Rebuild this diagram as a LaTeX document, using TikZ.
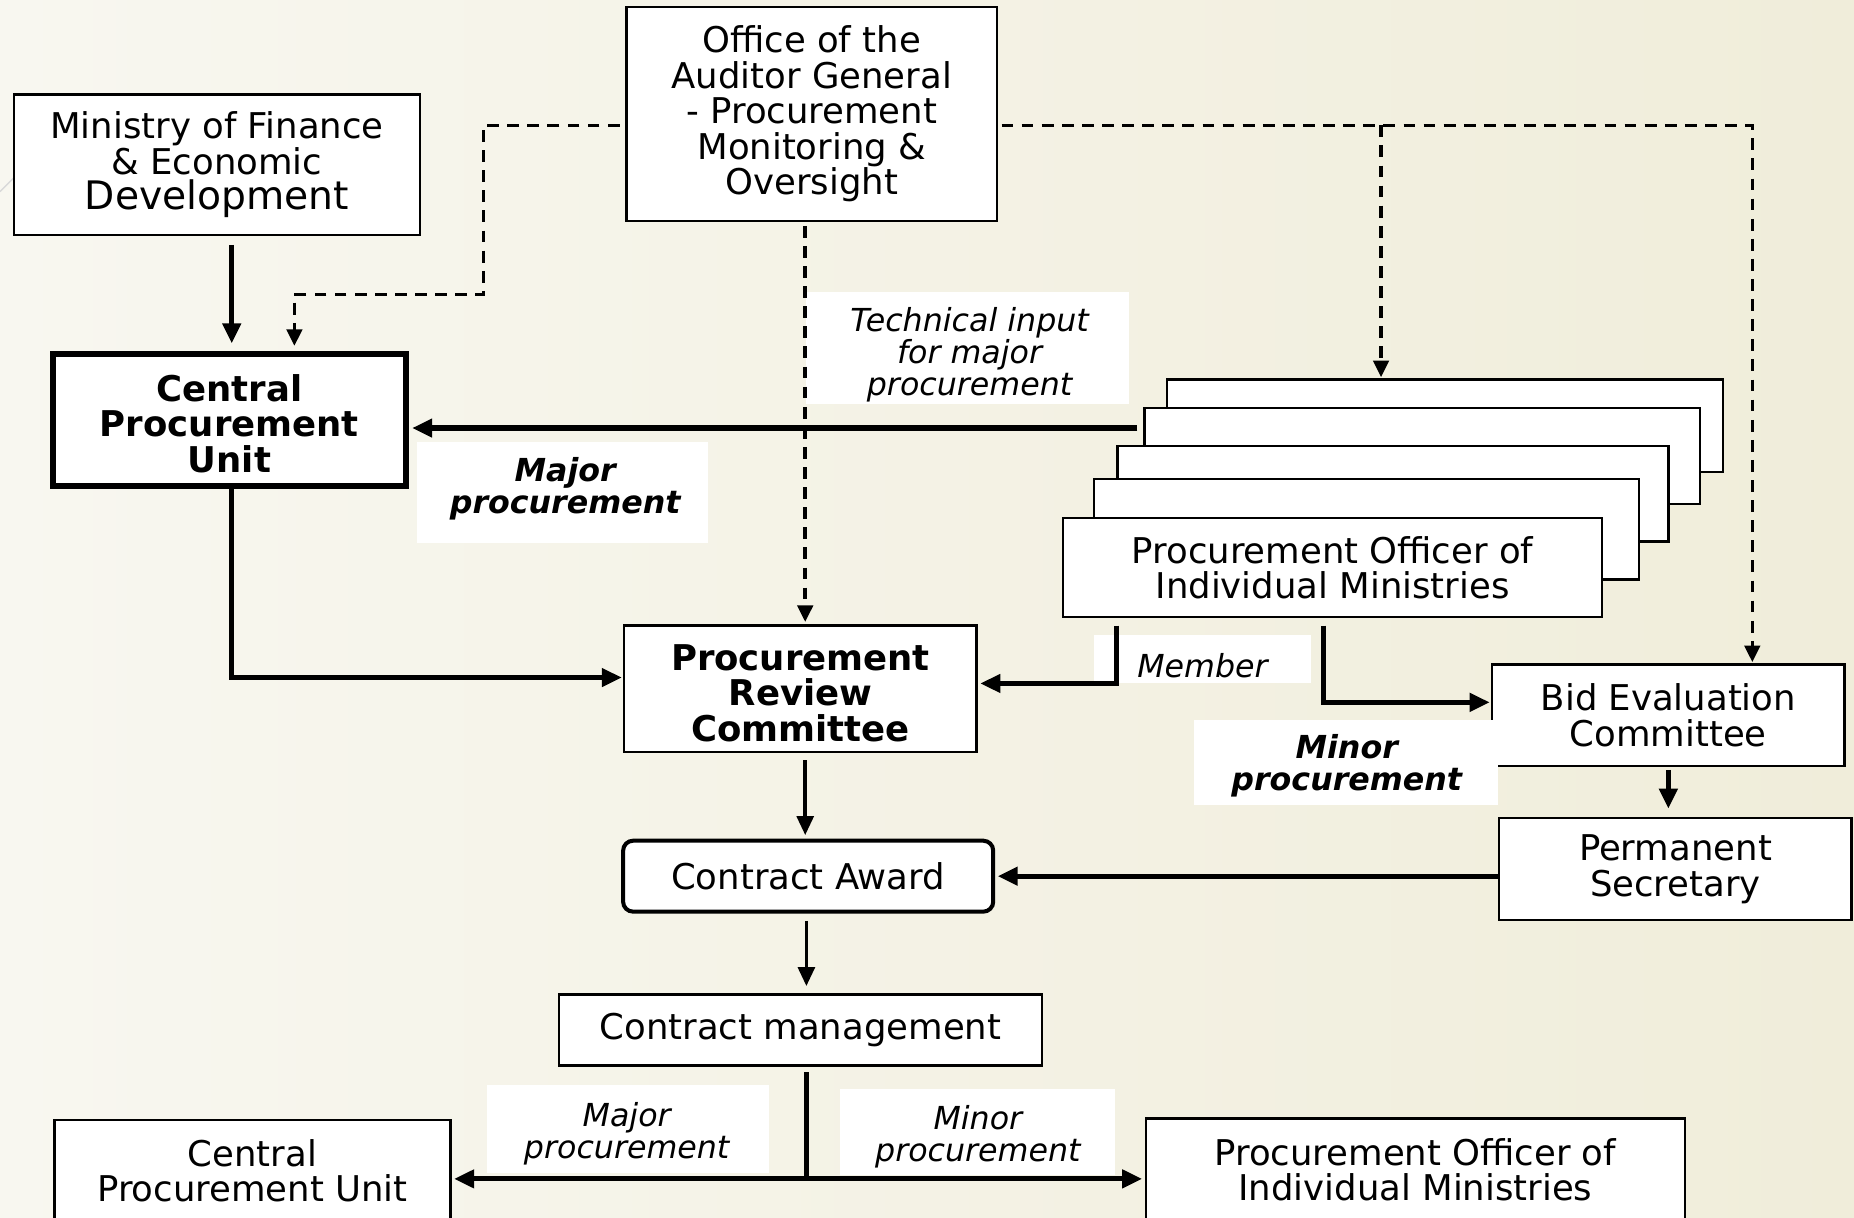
\documentclass[tikz,border=0pt]{standalone}
\usepackage{fontspec}
\setmainfont{DejaVu Sans}
\usetikzlibrary{arrows.meta,calc}
\newcommand\mainsz{\fontsize{15}{15}\selectfont}
\newcommand\labsz{\fontsize{13.4}{13.5}\selectfont}
\definecolor{bgL}{RGB}{248,247,240}
\definecolor{bgR}{RGB}{240,237,218}
\begin{document}
\begin{tikzpicture}[x=0.5pt,y=-0.5pt,
  box/.style={draw=black, line width=1pt, fill=white, align=center, inner sep=0pt, font=\mainsz},
  bold/.style={font=\mainsz\bfseries},
  txt/.style={inner sep=0pt, align=center, font=\mainsz},
  labbox/.style={fill=white, inner sep=0pt},
  lab/.style={inner sep=0pt, align=center, font=\labsz\itshape},
  labb/.style={inner sep=0pt, align=center, font=\labsz\bfseries\itshape},
  arr/.style={line width=2.2pt, -{Triangle[length=8.5pt,width=7.5pt]}},
  arrt/.style={line width=1.6pt, -{Triangle[length=8pt,width=7pt]}},
  dsh/.style={line width=1.5pt, dash pattern=on 5pt off 3.5pt, -{Triangle[length=7pt,width=6.5pt]}},
  ln/.style={line width=2pt}
]
\useasboundingbox (0,0) rectangle (1568,1030);
\shade[left color=bgL, right color=bgR] (0,0) rectangle (1568,1030);
\draw[black!15, line width=0.6pt] (0,162) -- (12,150);

% main boxes
\node[box, minimum width=171.5pt, minimum height=59.5pt] (min) at (183.5,139.5)
  {Ministry of Finance\\ \& Economic\\ {\fontsize{16.6}{15}\selectfont Development}};
\node[box, minimum width=156.5pt, minimum height=90.5pt] (off) at (686.5,96.5)
  {Office of the\\ Auditor General\\ - Procurement\\ Monitoring \&\\ Oversight};
\node[box, line width=2.5pt, minimum width=149pt, minimum height=56pt] (cpu) at (194,355) {};
\node[txt, font=\mainsz\bfseries] (cput) at (194,358) {Central\\ Procurement\\ Unit};
\node[box, minimum width=149pt, minimum height=53.5pt] (prc) at (677,582.5) {};
\node[txt, font=\mainsz\bfseries] (prct) at (677,586) {Procurement\\ Review\\ Committee};
\node[box, rounded corners=4.2pt, line width=1.7pt, minimum width=156.5pt, minimum height=30pt] (ca) at (683.5,741)
  {Contract Award};
\node[box, minimum width=204pt, minimum height=30pt] (cm) at (677,871)
  {Contract management};
\node[box, minimum width=167.5pt, minimum height=43pt] (bcpu) at (213.5,990)
  {Central\\ Procurement Unit};
\node[box, minimum width=228pt, minimum height=43.5pt] (bpo) at (1197,989.5)
  {Procurement Officer of\\ Individual Ministries};

% stacked boxes
\node[box, minimum width=235pt, minimum height=39pt] (s1) at (1222,360) {};
\node[box, minimum width=235pt, minimum height=40.5pt] (s2) at (1203,385.5) {};
\node[box, minimum width=233pt, minimum height=40.5pt] (s3) at (1178,417.5) {};
\node[box, minimum width=230.5pt, minimum height=42.5pt] (s4) at (1155.5,447.5) {};
\node[box, minimum width=228pt, minimum height=42pt] (sf) at (1127,480)
  {Procurement Officer of\\ Individual Ministries};

\node[box, minimum width=149pt, minimum height=43pt] (bec) at (1411,605)
  {Bid Evaluation\\ Committee};
\node[box, minimum width=149pt, minimum height=43pt] (ps) at (1417,735)
  {Permanent\\ Secretary};

% labels
\node[labbox, minimum width=136.5pt, minimum height=47.5pt] (techb) at (818.5,294.5) {};
\node[lab] (tech) at (820,300) {Technical input\\ for major\\ procurement};
\node[labbox, minimum width=123pt, minimum height=42.5pt] (majb) at (476,416.5) {};
\node[labb] (majl) at (478,413) {Major\\ procurement};
\node[labbox, minimum width=92pt, minimum height=20.5pt] (memb) at (1017,557.5) {};
\node[lab] (meml) at (1017,563) {Member};
\node[labbox, minimum width=128.5pt, minimum height=36pt] (minb) at (1138.5,645) {};
\node[labb] (minl) at (1139,648) {Minor\\ procurement};
\node[labbox, minimum width=119pt, minimum height=37pt] (bmajb) at (531,955) {};
\node[lab] (bmaj) at (530,959) {Major\\ procurement};
\node[labbox, minimum width=116.5pt, minimum height=36.5pt] (bminb) at (826.5,957.5) {};
\node[lab] (bmin) at (827,961) {Minor\\ procurement};

% coordinates
\coordinate (d1) at (409,106);
\coordinate (d2) at (409,249);
\coordinate (d3) at (249,249);
\coordinate (d4) at (681,0);
\coordinate (d5) at (1482,106);
\coordinate (d6) at (1168,106);
\coordinate (c1) at (962,362);
\coordinate (c2) at (196,573);
\coordinate (c3) at (944,578);
\coordinate (c4) at (1119,594);
\coordinate (c5) at (682,997);
\coordinate (v1) at (681,0);
\coordinate (v2) at (682,0);
\coordinate (v0) at (196,0);

% dashed connectors
\draw[dsh, shorten <=2.5pt, shorten >=2pt] (off.west |- d1) -- (d1) -- (d2) -- (d3) -- (d3 |- cpu.north);
\draw[dsh, shorten <=1.5pt, shorten >=1pt] (d4 |- off.south) -- (d4 |- prc.north);
\draw[dsh, shorten <=1.5pt, shorten >=0.5pt] (off.east |- d5) -- (d5) -- (d5 |- bec.north);
\draw[dsh, shorten >=0.5pt] (d6) -- (d6 |- s1.north);

% solid connectors
\draw[arr, shorten <=3.5pt, shorten >=3pt] (v0 |- min.south) -- (v0 |- cpu.north);
\draw[arr, shorten >=1.5pt] (c1) -- (c1 -| cpu.east);
\draw[arr, shorten >=0.5pt] (cpu.south -| c2) -- (c2) -- (c2 -| prc.west);
\draw[arr, shorten <=3pt, shorten >=1pt] (c3 |- sf.south) -- (c3) -- (c3 -| prc.east);
\draw[arr, shorten <=3pt, shorten >=0.5pt] (c4 |- sf.south) -- (c4) -- (c4 -| bec.west);
\draw[arr, shorten <=1pt, shorten >=3.5pt] (bec.south) -- (bec.south |- ps.north);
\draw[arr, shorten >=1pt] (ca -| ps.west) -- (ca.east);
\draw[arrt, shorten <=3pt, shorten >=1.5pt] (v1 |- prc.south) -- (v1 |- ca.north);
\draw[arrt, shorten <=3pt, shorten >=3pt] (v2 |- ca.south) -- (v2 |- cm.north);
\draw[ln, line width=1.8pt, shorten <=2.5pt] (v2 |- cm.south) -- (c5);
\draw[arr, shorten >=1pt] (c5) -- (c5 -| bcpu.east);
\draw[arr, shorten >=1pt] (c5) -- (c5 -| bpo.west);
\end{tikzpicture}
\end{document}
